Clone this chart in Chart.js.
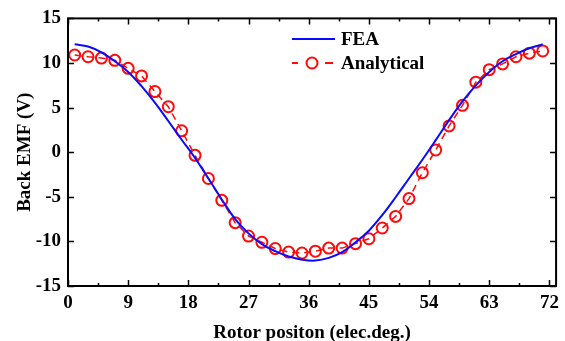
<!DOCTYPE html>
<html>
<head>
<meta charset="utf-8">
<script src="https://cdn.jsdelivr.net/npm/chart.js@4"></script>
<style>
  html, body { margin: 0; padding: 0; background: #fff; }
  #wrap { width: 565px; height: 341px; }
</style>
</head>
<body>
<div id="wrap"><canvas id="emf" width="565" height="341"></canvas></div>
<script>
// rotor positions (elec. deg.) where both curves were sampled
const positions = [1, 3, 5, 7, 9, 11, 13, 15, 17, 19, 21, 23, 25, 27, 29, 31, 33, 35,
  37, 39, 41, 43, 45, 47, 49, 51, 53, 55, 57, 59, 61, 63, 65, 67, 69, 71];

// back EMF from finite element analysis (V)
const feaValues = [12.1, 11.85, 11.2, 10.2, 9.0, 7.4, 5.55, 3.5, 1.4, -0.65, -2.95, -5.3,
  -7.5, -9.1, -10.3, -11.1, -11.7, -12.05, -12.15, -11.85, -11.2, -10.1, -8.8, -7.05,
  -5.05, -2.95, -0.85, 1.35, 3.6, 5.7, 7.5, 9.0, 10.2, 11.0, 11.65, 12.1];

// back EMF from the analytical model (V)
const analyticalValues = [10.9, 10.7, 10.55, 10.3, 9.4, 8.55, 6.8, 5.1, 2.4, -0.35, -2.95,
  -5.4, -7.9, -9.4, -10.1, -10.8, -11.2, -11.3, -11.1, -10.75, -10.75, -10.25, -9.7,
  -8.5, -7.2, -5.2, -2.3, 0.25, 2.95, 5.25, 7.85, 9.25, 9.9, 10.7, 11.1, 11.35];

const xTicks = [0, 9, 18, 27, 36, 45, 54, 63, 72];
const yTicks = [-15, -10, -5, 0, 5, 10, 15];

const FONT = { family: "'Liberation Serif', 'Times New Roman', serif", size: 19, weight: 'bold' };
const BLUE = '#0a0aff';
const RED = '#ff0a0a';

// Origin-style box with inward ticks (major + minor on x)
const framePlugin = {
  id: 'frame',
  afterDatasetsDraw(chart) {
    const { ctx, chartArea: a, scales } = chart;
    const x = scales.x, y = scales.y;
    ctx.save();
    ctx.strokeStyle = '#000';
    ctx.lineWidth = 1.5;
    for (let i = 0; i < xTicks.length; i++) {
      const v = xTicks[i];
      let px = Math.round(x.getPixelForValue(v)) + 0.5;
      ctx.beginPath();
      ctx.moveTo(px, a.bottom); ctx.lineTo(px, a.bottom - 6);
      ctx.moveTo(px, a.top); ctx.lineTo(px, a.top + 6);
      ctx.stroke();
      if (i < xTicks.length - 1) {
        px = Math.round(x.getPixelForValue((v + xTicks[i + 1]) / 2)) + 0.5;
        ctx.beginPath();
        ctx.moveTo(px, a.bottom); ctx.lineTo(px, a.bottom - 3);
        ctx.moveTo(px, a.top); ctx.lineTo(px, a.top + 3);
        ctx.stroke();
      }
    }
    for (const v of yTicks) {
      const py = Math.round(y.getPixelForValue(v)) + 0.5;
      ctx.beginPath();
      ctx.moveTo(a.left, py); ctx.lineTo(a.left + 6, py);
      ctx.moveTo(a.right, py); ctx.lineTo(a.right - 6, py);
      ctx.stroke();
    }
    ctx.lineWidth = 2;
    ctx.strokeRect(a.left, a.top, a.right - a.left, a.bottom - a.top);
    ctx.restore();
  }
};

// legend drawn inside the plot, near the top middle
const legendPlugin = {
  id: 'insideLegend',
  afterDraw(chart) {
    const ctx = chart.ctx;
    const ds = chart.data.datasets;
    ctx.save();
    ctx.font = `${FONT.weight} ${FONT.size}px ${FONT.family}`;
    ctx.textBaseline = 'middle';
    ctx.fillStyle = '#000';

    // FEA
    ctx.strokeStyle = ds[0].borderColor;
    ctx.lineWidth = 2;
    ctx.beginPath(); ctx.moveTo(292, 39); ctx.lineTo(335, 39); ctx.stroke();
    ctx.fillText(ds[0].label, 341, 40);

    // Analytical
    ctx.strokeStyle = ds[1].borderColor;
    ctx.beginPath();
    ctx.moveTo(292, 63); ctx.lineTo(298, 63);
    ctx.moveTo(325, 63); ctx.lineTo(333, 63);
    ctx.stroke();
    ctx.beginPath(); ctx.arc(312, 63, 5.5, 0, Math.PI * 2); ctx.stroke();
    ctx.fillText(ds[1].label, 341, 64);
    ctx.restore();
  }
};

new Chart(document.getElementById('emf'), {
  type: 'line',
  data: {
    datasets: [
      {
        label: 'FEA',
        data: positions.map((p, i) => ({ x: p, y: feaValues[i] })),
        borderColor: BLUE,
        borderWidth: 2,
        pointRadius: 0,
        tension: 0.4,
      },
      {
        label: 'Analytical',
        data: positions.map((p, i) => ({ x: p, y: analyticalValues[i] })),
        borderColor: RED,
        borderWidth: 1.5,
        borderDash: [7, 5],
        pointStyle: 'circle',
        pointRadius: 5.5,
        pointBorderWidth: 2,
        pointBorderColor: RED,
        pointBackgroundColor: 'rgba(0,0,0,0)',
        tension: 0,
      },
    ],
  },
  options: {
    responsive: false,
    animation: false,
    layout: { padding: { top: 15, right: 8, left: 0, bottom: 0 } },
    plugins: { legend: { display: false }, tooltip: { enabled: false } },
    scales: {
      x: {
        type: 'linear',
        min: 0,
        max: 73,
        afterBuildTicks: (s) => { s.ticks = xTicks.map((v) => ({ value: v })); },
        afterFit: (s) => { s.height = 55; },
        grid: { display: false, drawTicks: false },
        border: { display: false },
        ticks: { color: '#000', font: FONT, padding: 6, maxRotation: 0 },
        title: { display: true, text: 'Rotor positon (elec.deg.)', color: '#000', font: FONT, padding: { top: 10, bottom: -3 } },
      },
      y: {
        type: 'linear',
        min: -15,
        max: 15,
        afterBuildTicks: (s) => { s.ticks = yTicks.map((v) => ({ value: v })); },
        afterFit: (s) => { s.width = 68; },
        grid: { display: false, drawTicks: false },
        border: { display: false },
        ticks: { color: '#000', font: FONT, padding: 7 },
        title: { display: true, text: 'Back EMF (V)', color: '#000', font: FONT, padding: { top: 14, bottom: 0 } },
      },
    },
  },
  plugins: [framePlugin, legendPlugin],
});
</script>
</body>
</html>
